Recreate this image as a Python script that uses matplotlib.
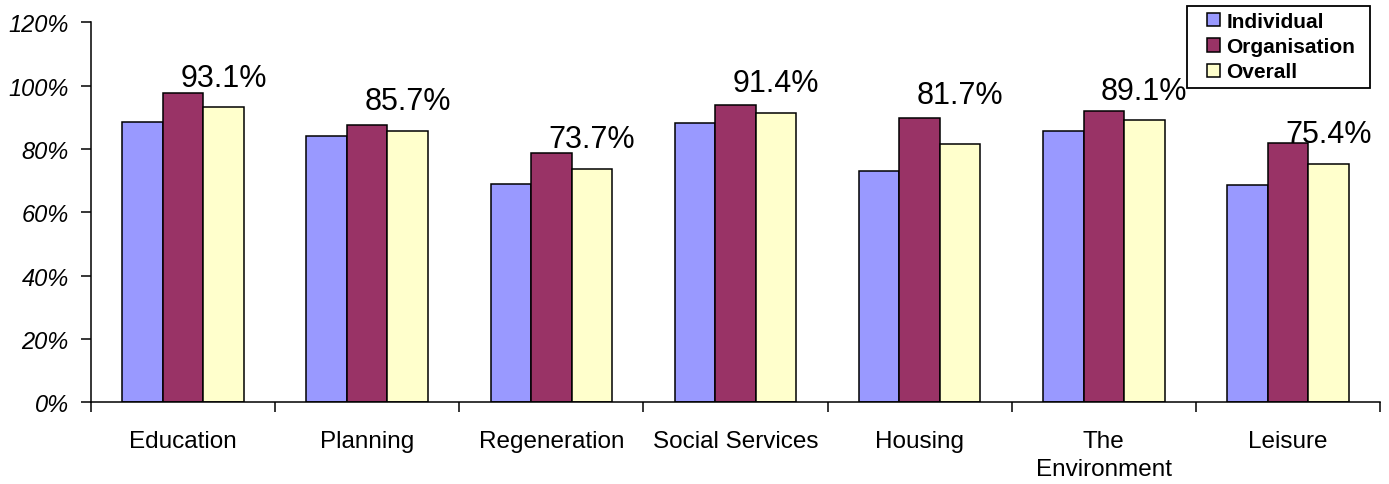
import numpy as np
import matplotlib.pyplot as plt
from matplotlib.patches import Patch, Rectangle
from matplotlib.legend_handler import HandlerPatch

plt.rcParams['font.family'] = ['Liberation Sans', 'DejaVu Sans']

# 各服务类别及三组满意度数据
categories = ['Education', 'Planning', 'Regeneration', 'Social Services',
              'Housing', 'The\nEnvironment', 'Leisure']
individual = [88.4, 84.1, 68.8, 88.3, 73.1, 85.8, 68.7]
organisation = [97.8, 87.7, 78.8, 94.0, 89.7, 92.1, 82.0]
overall = [93.1, 85.7, 73.7, 91.4, 81.7, 89.1, 75.4]
series_names = ['Individual', 'Organisation', 'Overall']
colors = ['#9999FF', '#993366', '#FFFFCC']
yticks = [0, 20, 40, 60, 80, 100, 120]

fig = plt.figure(figsize=(13.89, 4.85), dpi=100)
ax = fig.add_axes([0.0655, 0.1684, 0.928, 0.7836])

x = np.arange(len(categories))
w = 0.22
for i, (vals, c) in enumerate(zip([individual, organisation, overall], colors)):
    ax.bar(x + (i - 1) * w, vals, w, color=c, edgecolor='black', linewidth=1.1)

# 总体数值标注（Housing 的标签往上挪了一点）
lift = [14 if c == 'Housing' else 0 for c in categories]
for xi, v, dy in zip(x, overall, lift):
    ax.annotate('%.1f%%' % v, (xi + w, v), xytext=(0, 15.5 + dy), textcoords='offset points',
                ha='center', va='baseline', fontsize=22)

ax.set_xlim(-0.5, len(categories) - 0.5)
ax.set_ylim(0, 120)
ax.set_yticks(yticks)
ax.set_yticklabels(['%d%%' % t for t in yticks], fontsize=17, style='italic')
ax.tick_params(axis='y', direction='out', length=7, width=1.1, pad=9)

# 主刻度在类别分界处，类别名放在次刻度上
ax.set_xticks(np.arange(len(categories) + 1) - 0.5)
ax.set_xticklabels([])
ax.set_xticks(x, minor=True)
ax.set_xticklabels(categories, minor=True, fontsize=17.5, linespacing=1.35, va='top')
ax.tick_params(axis='x', which='major', direction='out', length=7, width=1.1)
ax.tick_params(axis='x', which='minor', length=0, pad=20)

for s in ['top', 'right']:
    ax.spines[s].set_visible(False)
for s in ['left', 'bottom']:
    ax.spines[s].set_linewidth(1.1)


# 图例色块：靠右的小方块
def small_square(legend, orig_handle, xdescent, ydescent, width, height, fontsize):
    s = 9.4
    return Rectangle((-xdescent + width - s, -ydescent + (height - s) / 2), s, s)


handles = [Patch(facecolor=c, edgecolor='black', linewidth=1.1) for c in colors]
leg = fig.legend(handles, series_names, loc='upper left',
                 bbox_to_anchor=(1187 / 1389, 0, 183 / 1389, 1 - 7 / 485), mode='expand',
                 handler_map={Patch: HandlerPatch(patch_func=small_square)},
                 prop={'weight': 'bold', 'size': 15}, frameon=True, fancybox=False,
                 edgecolor='black', framealpha=1, borderpad=0.3, labelspacing=0.29,
                 handlelength=1.29, handletextpad=0.29, borderaxespad=0)
leg.get_frame().set_linewidth(1.3)

fig.savefig('out.png', dpi=100)
